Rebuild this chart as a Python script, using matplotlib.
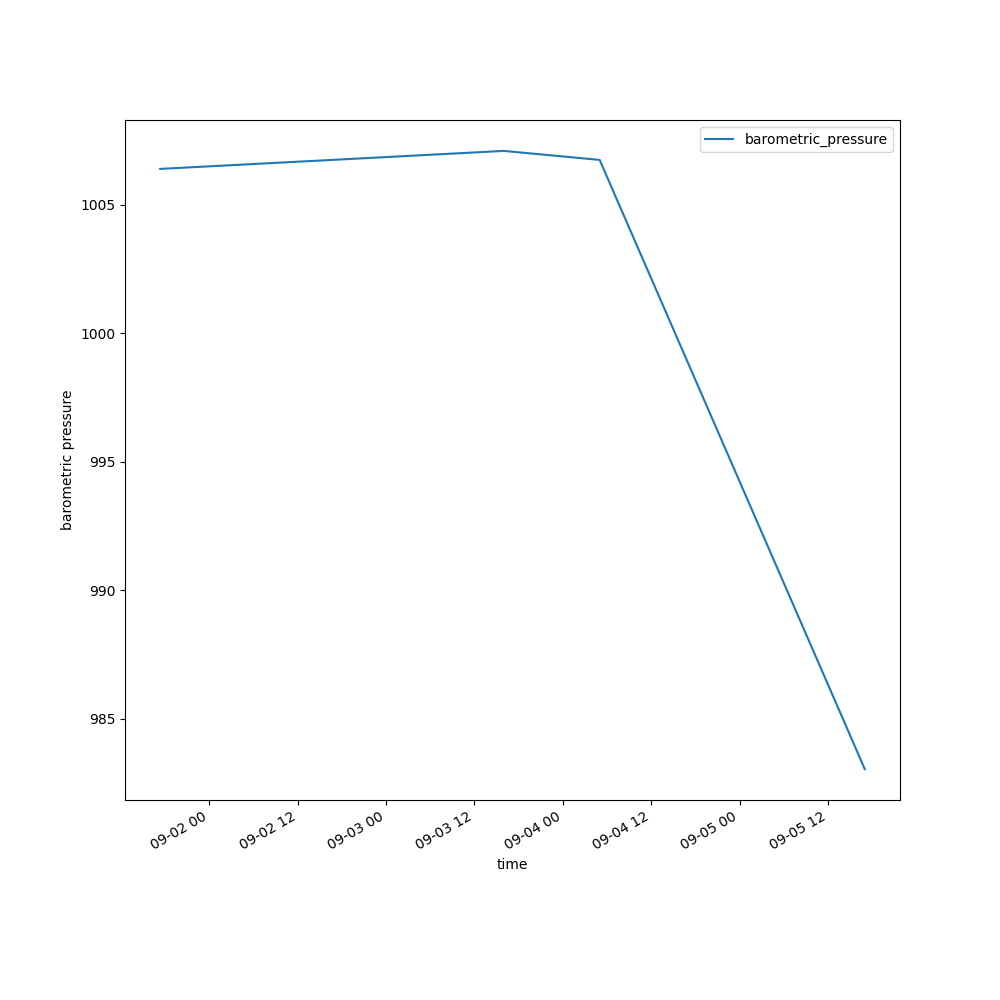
from matplotlib import pyplot as plt
import numpy as np

# Observation times and pressure readings.
times = np.array([
    '2019-09-01T17:20',
    '2019-09-03T16:00',
    '2019-09-04T05:00',
    '2019-09-05T17:00'], dtype = 'datetime64[m]')
barometric_pressure = [1006.4, 1007.1, 1006.75, 983.05]

fig, ax = plt.subplots(figsize = (10, 10), dpi = 100)
ax.plot(times, barometric_pressure, label = 'barometric_pressure')
ax.set_xlabel('time')
ax.set_ylabel('barometric pressure')
ax.legend(loc = 'upper right')
fig.autofmt_xdate()

plt.savefig('out.png')
